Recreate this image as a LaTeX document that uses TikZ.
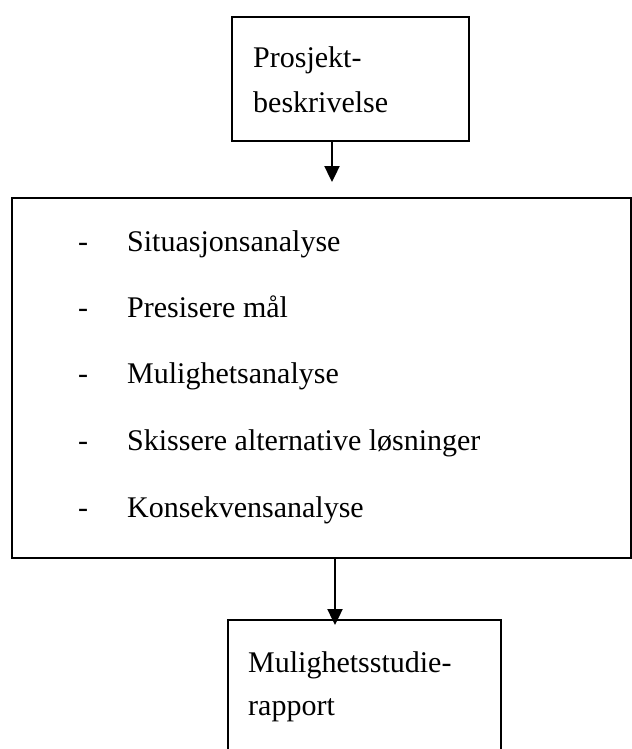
\documentclass[tikz,border=0pt]{standalone}
\usepackage{fontspec}
\setmainfont{Liberation Serif}
\usetikzlibrary{arrows.meta}
\begin{document}
\begin{tikzpicture}[x=1bp,y=-1bp,
  box/.style={draw=black, line width=1.8bp, rectangle, inner sep=0pt, anchor=north west},
  lbl/.style={anchor=base west, inner sep=0pt, font=\fontsize{30bp}{36bp}\selectfont},
  conn/.style={line width=2.4bp, -{Triangle[length=16bp,width=15bp]}}]
\fill[white] (0,0) rectangle (632,749);
\clip (0,0) rectangle (632,749);
% boxes
\node[box, minimum width=237bp, minimum height=124bp] (top) at (231,16) {};
\node[box, minimum width=619bp, minimum height=360bp] (mid) at (11,197) {};
\node[box, minimum width=273bp, minimum height=200bp] (bot) at (227,619) {};
% top box text
\node[lbl] (t1) at (253,68) {Prosjekt-};
\node[lbl] (t2) at (253,112) {beskrivelse};
% list
\node[lbl] (d1) at (78,251) {-};
\node[lbl] (l1) at (127,251) {Situasjonsanalyse};
\node[lbl] (d2) at (78,317) {-};
\node[lbl] (l2) at (127,317) {Presisere mål};
\node[lbl] (d3) at (78,383) {-};
\node[lbl] (l3) at (127,383) {Mulighetsanalyse};
\node[lbl] (d4) at (78,450) {-};
\node[lbl] (l4) at (127,450) {Skissere alternative løsninger};
\node[lbl] (d5) at (78,517) {-};
\node[lbl] (l5) at (127,517) {Konsekvensanalyse};
% bottom box text
\node[lbl] (b1) at (248,672) {Mulighetsstudie-};
\node[lbl] (b2) at (248,715) {rapport};
% connectors
\coordinate (a1) at (332,0);
\coordinate (a2) at (335,0);
\draw[conn, shorten >=15bp] (a1 |- top.south) -- (a1 |- mid.north);
\draw[conn, shorten >=-6bp] (a2 |- mid.south) -- (a2 |- bot.north);
\end{tikzpicture}
\end{document}
